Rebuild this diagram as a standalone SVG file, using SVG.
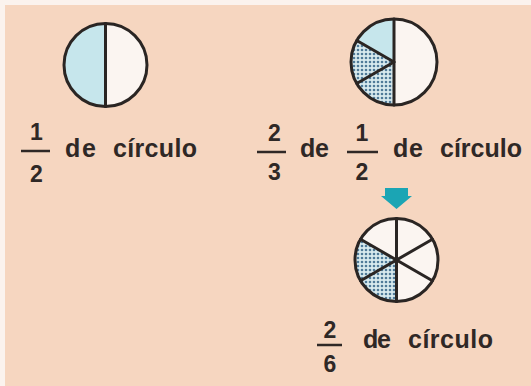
<svg xmlns="http://www.w3.org/2000/svg" width="531" height="386" viewBox="0 0 531 386">
<style>
.t{font-family:"Liberation Sans",Arial,sans-serif;font-weight:bold;font-size:25px;fill:#2f2826}
.n{font-family:"Liberation Sans",Arial,sans-serif;font-weight:bold;font-size:23px;fill:#2f2826;text-anchor:middle}
.bar{stroke:#2f2826;stroke-width:2.5}
.edge{fill:none;stroke:#2a2523;stroke-width:3}
.ln{stroke:#2a2523;stroke-width:3;stroke-linecap:round}
.blue{fill:#c6e6ec}
.white{fill:#fbf5f1}
.dot{fill:url(#dots)}
</style>
<defs>
<pattern id="dots" width="4" height="4" patternUnits="userSpaceOnUse">
<rect width="4" height="4" fill="#d8eaee"/>
<circle cx="2" cy="2" r="1.3" fill="#4f7a98"/>
</pattern>
</defs>
<rect width="531" height="386" fill="#fbf3ee"/>
<rect x="5" y="5" width="526" height="381" fill="#f6d6c0"/>

<g id="circle-half">
<path class="blue" d="M105.5,65 L105.5,23.5 A41.5,41.5 0 0 0 105.5,106.5 Z"/>
<path class="white" d="M105.5,65 L105.5,23.5 A41.5,41.5 0 0 1 105.5,106.5 Z"/>
<circle class="edge" cx="105.5" cy="65" r="41.5"/>
<line class="ln" x1="105.5" y1="23.5" x2="105.5" y2="106.5"/>
</g>

<g id="circle-thirds">
<path class="white" d="M394,62 L394,19 A43,43 0 0 1 394,105 Z"/>
<path class="blue" d="M394,62 L394,19 A43,43 0 0 0 356.76,40.5 Z"/>
<path class="dot" d="M394,62 L356.76,40.5 A43,43 0 0 0 356.76,83.5 Z"/>
<path class="dot" d="M394,62 L356.76,83.5 A43,43 0 0 0 394,105 Z"/>
<circle class="edge" cx="394" cy="62" r="43"/>
<line class="ln" x1="394" y1="19" x2="394" y2="105"/>
<line class="ln" x1="394" y1="62" x2="356.76" y2="40.5"/>
<line class="ln" x1="394" y1="62" x2="356.76" y2="83.5"/>
</g>

<g id="arrow">
<path d="M385,188 H408 V196 H412 L396.5,209 L381,196 H385 Z" fill="#1ba5b4"/>
</g>

<g id="circle-sixths">
<circle class="white" cx="396.5" cy="260" r="41.5"/>
<path class="dot" d="M396.5,260 L396.5,301.5 A41.5,41.5 0 0 1 360.56,280.75 Z"/>
<path class="dot" d="M396.5,260 L360.56,280.75 A41.5,41.5 0 0 1 360.56,239.25 Z"/>
<circle class="edge" cx="396.5" cy="260" r="41.5"/>
<line class="ln" x1="396.5" y1="218.5" x2="396.5" y2="301.5"/>
<line class="ln" x1="360.56" y1="239.25" x2="432.44" y2="280.75"/>
<line class="ln" x1="360.56" y1="280.75" x2="432.44" y2="239.25"/>
</g>

<g id="label-half">
<text class="n" x="36.5" y="140">1</text>
<line class="bar" x1="21" y1="151" x2="50" y2="151"/>
<text class="n" x="36.5" y="182">2</text>
<text class="t" x="65" y="157" textLength="31" lengthAdjust="spacing">de</text>
<text class="t" x="113" y="157" textLength="84" lengthAdjust="spacing">círculo</text>
</g>

<g id="label-thirds">
<text class="n" x="274.5" y="141">2</text>
<line class="bar" x1="257" y1="152" x2="286" y2="152"/>
<text class="n" x="274.5" y="180">3</text>
<text class="t" x="300" y="157" textLength="29" lengthAdjust="spacing">de</text>
<text class="n" x="362" y="141">1</text>
<line class="bar" x1="347" y1="152" x2="378" y2="152"/>
<text class="n" x="362" y="180">2</text>
<text class="t" x="393" y="157" textLength="30" lengthAdjust="spacing">de</text>
<text class="t" x="440" y="157" textLength="82" lengthAdjust="spacing">círculo</text>
</g>

<g id="label-sixths">
<text class="n" x="330" y="338">2</text>
<line class="bar" x1="317" y1="345" x2="342" y2="345"/>
<text class="n" x="330" y="372">6</text>
<text class="t" x="363" y="348" textLength="28" lengthAdjust="spacing">de</text>
<text class="t" x="408" y="348" textLength="85" lengthAdjust="spacing">círculo</text>
</g>
</svg>
